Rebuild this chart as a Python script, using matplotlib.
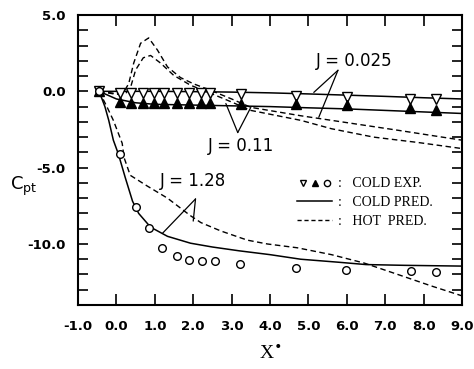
import matplotlib
matplotlib.use('Agg')
import matplotlib.pyplot as plt
from matplotlib.lines import Line2D
from matplotlib.legend_handler import HandlerTuple

# Cold experiment (hourglass markers: J=0.025 open, J=0.11 filled)
x_exp = [-0.45, 0.1, 0.37, 0.68, 0.97, 1.23, 1.59, 1.88, 2.19, 2.45,
         3.24, 4.67, 6.0, 7.65, 8.33]
cp_exp_025 = [0.0, -0.1, -0.1, -0.1, -0.1, -0.1, -0.1, -0.1, -0.1, -0.1,
              -0.15, -0.3, -0.4, -0.5, -0.5]
cp_exp_011 = [0.0, -0.7, -0.75, -0.75, -0.75, -0.75, -0.75, -0.75, -0.75,
              -0.75, -0.8, -0.8, -0.9, -1.1, -1.2]

# Cold experiment J=1.28 (circles)
x_exp_128 = [-0.45, 0.1, 0.5, 0.86, 1.2, 1.57, 1.9, 2.22, 2.58, 3.22,
             4.67, 5.98, 7.67, 8.33]
cp_exp_128 = [0.0, -4.1, -7.6, -8.95, -10.25, -10.8, -11.05, -11.1, -11.1,
              -11.3, -11.6, -11.7, -11.8, -11.85]

# Cold predictions (solid)
x_cold_025 = [-0.45, 0.0, 1.0, 2.0, 3.0, 4.0, 5.0, 6.0, 7.0, 8.0, 9.0]
cp_cold_025 = [0.0, 0.0, 0.0, -0.02, -0.05, -0.1, -0.17, -0.25, -0.33,
               -0.42, -0.5]
x_cold_011 = [-0.45, 0.0, 0.5, 1.0, 2.0, 3.0, 4.0, 5.0, 6.0, 7.0, 8.0, 9.0]
cp_cold_011 = [0.0, -0.5, -0.75, -0.85, -0.9, -0.95, -1.0, -1.08, -1.15,
               -1.25, -1.35, -1.45]
x_cold_128 = [-0.45, -0.3, -0.2, -0.08, 0.05, 0.23, 0.42, 0.58, 0.89, 1.33,
              1.93, 2.5, 3.2, 4.0, 4.8, 5.8, 6.5, 7.5, 9.0]
cp_cold_128 = [0.0, -1.0, -1.9, -3.2, -4.1, -5.65, -7.2, -8.0, -8.9, -9.5,
               -9.95, -10.2, -10.45, -10.7, -11.0, -11.2, -11.35, -11.4,
               -11.45]

# Hot predictions (dashed)
x_hot_a = [-0.45, 0.0, 0.2, 0.32, 0.45, 0.63, 0.84, 1.07, 1.33, 1.67, 2.0,
           2.45, 3.0, 3.5, 4.8, 5.6, 7.33, 9.0]
cp_hot_a = [0.0, -0.15, 0.0, 0.5, 1.85, 3.15, 3.5, 2.7, 1.6, 0.9, 0.5,
            0.07, -0.5, -1.05, -1.6, -1.9, -2.55, -3.2]
x_hot_b = [-0.45, 0.0, 0.25, 0.37, 0.5, 0.7, 0.89, 1.15, 1.49, 1.93, 2.38,
           3.0, 3.5, 4.8, 5.6, 6.7, 7.85, 9.0]
cp_hot_b = [0.0, -0.2, -0.1, 0.27, 1.4, 2.2, 2.35, 1.85, 1.05, 0.4, -0.05,
            -0.7, -1.25, -1.9, -2.45, -3.0, -3.35, -3.75]
x_hot_128 = [-0.45, -0.24, -0.08, 0.15, 0.2, 0.36, 0.8, 1.33, 1.93, 2.2,
             2.72, 3.41, 3.93, 4.71, 5.6, 6.45, 7.33, 8.2, 9.0]
cp_hot_128 = [0.0, -1.05, -1.9, -3.4, -4.35, -5.5, -6.2, -7.0, -8.15, -8.6,
              -9.15, -9.75, -10.0, -10.25, -10.7, -11.25, -12.0, -12.75,
              -13.4]

x_ticks = [-1.0, 0.0, 1.0, 2.0, 3.0, 4.0, 5.0, 6.0, 7.0, 8.0, 9.0]
y_ticks = [5.0, 0.0, -5.0, -10.0]

tick_font = dict(family='DejaVu Sans', weight='bold', size=9.5)
dash = (0, (4, 2.5))

fig = plt.figure(figsize=(4.74, 3.69), dpi=100)
ax = fig.add_axes([0.1646, 0.1734, 0.8101, 0.7859])

# predictions
ax.plot(x_cold_025, cp_cold_025, 'k-', lw=1.1)
ax.plot(x_cold_011, cp_cold_011, 'k-', lw=1.1)
ax.plot(x_cold_128, cp_cold_128, 'k-', lw=1.1)
ax.plot(x_hot_a, cp_hot_a, color='k', ls=dash, lw=1.0)
ax.plot(x_hot_b, cp_hot_b, color='k', ls=dash, lw=1.0)
ax.plot(x_hot_128, cp_hot_128, color='k', ls=dash, lw=1.0)

# experiments
ax.plot(x_exp, cp_exp_025, 'v', ms=6.5, mfc='white', mec='k', mew=1.0)
ax.plot(x_exp, cp_exp_011, '^', ms=6.5, mfc='k', mec='k')
ax.plot(x_exp_128, cp_exp_128, 'o', ms=5.5, mfc='white', mec='k', mew=1.0)

ax.set_xlim(-1.0, 9.0)
ax.set_ylim(-14.0, 5.0)
ax.set_xticks(x_ticks)
ax.set_xticklabels(['%.1f' % v for v in x_ticks], fontdict=tick_font)
ax.set_yticks(y_ticks)
ax.set_yticklabels(['%.1f' % v for v in y_ticks], fontdict=tick_font)
ax.set_yticks([v for v in range(-14, 6)], minor=True)
ax.tick_params(which='both', direction='in', top=True, right=True,
               width=1.2, length=8)
ax.tick_params(axis='x', pad=11)
ax.tick_params(axis='y', which='both', length=7, pad=9)
for s in ax.spines.values():
    s.set_linewidth(1.5)

ax.set_xlabel(r'X$^{\bullet}$', family='Liberation Serif', size=14,
              labelpad=8)
ax.text(-0.105, 0.41, r'C$_{\mathregular{pt}}$', transform=ax.transAxes,
        family='DejaVu Sans', size=13, ha='right', va='center')

# labels with pointer lines
lab = dict(family='DejaVu Sans', size=12)
line = dict(arrowstyle='-', lw=0.9, color='k', shrinkA=0, shrinkB=0)
ax.text(6.2, 2.0, 'J = 0.025', ha='center', va='center', **lab)
ax.annotate('', xy=(5.14, -0.07), xytext=(5.77, 1.38), arrowprops=line)
ax.annotate('', xy=(5.27, -1.7), xytext=(5.77, 1.38), arrowprops=line)
ax.text(3.25, -3.55, 'J = 0.11', ha='center', va='center', **lab)
ax.annotate('', xy=(2.85, -0.8), xytext=(3.16, -2.7), arrowprops=line)
ax.annotate('', xy=(3.5, -1.05), xytext=(3.16, -2.7), arrowprops=line)
ax.text(2.0, -5.85, 'J = 1.28', ha='center', va='center', **lab)
ax.annotate('', xy=(1.2, -9.3), xytext=(2.06, -7.05), arrowprops=line)
ax.annotate('', xy=(2.0, -8.5), xytext=(2.06, -7.05), arrowprops=line)

# legend
h_exp = (Line2D([], [], ls='none', marker='v', ms=5, mfc='white', mec='k'),
         Line2D([], [], ls='none', marker='^', ms=5, mfc='k', mec='k'),
         Line2D([], [], ls='none', marker='o', ms=4.5, mfc='white', mec='k'))
h_cold = Line2D([], [], color='k', lw=1.1)
h_hot = Line2D([], [], color='k', lw=1.0, ls=(0, (3, 2)))
ax.legend([h_exp, h_cold, h_hot],
          [':   COLD EXP.', ':   COLD PRED.', ':   HOT  PRED.'],
          handler_map={tuple: HandlerTuple(ndivide=None, pad=0.1)},
          loc='upper left', bbox_to_anchor=(0.571, 0.44), frameon=False,
          borderpad=0, borderaxespad=0, handlelength=2.5,
          handletextpad=0.4, labelspacing=0.42,
          prop=dict(family='Liberation Serif', size=10))

fig.savefig('out.png', dpi=100)
